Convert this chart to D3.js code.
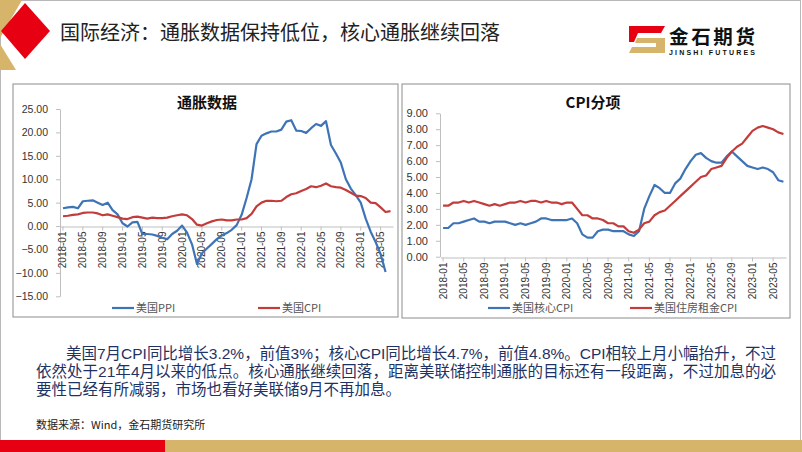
<!DOCTYPE html>
<html lang="zh-CN"><head><meta charset="utf-8">
<script src="https://cdn.jsdelivr.net/npm/d3@7"></script>
<style>body{margin:0;background:#fff}svg{display:block}</style>
</head><body><svg id="c" width="802" height="452" lang="zh-CN"></svg>
<script>
// ---------- data ----------
const months = [];
for (let yr = 2018; yr <= 2023; yr++) for (let m = 1; m <= 12; m++) {
  if (yr === 2023 && m > 7) break;
  months.push(yr + "-" + String(m).padStart(2, "0"));
}
const tickLabels = ["2018-01","2018-05","2018-09","2019-01","2019-05","2019-09","2020-01","2020-05","2020-09","2021-01","2021-05","2021-09","2022-01","2022-05","2022-09","2023-01","2023-05"];
const usPPI = [3.8,4.0,4.1,3.8,5.3,5.4,5.5,5.0,4.5,5.0,3.4,2.5,
  0.6,-0.1,0.8,0.9,-1.7,-1.7,-1.8,-2.1,-2.5,-2.8,-1.7,-1.0,
  0.1,-1.4,-3.9,-8.1,-5.8,-4.8,-3.8,-2.8,-2.0,-1.5,-0.8,0.2,
  2.4,6.0,10.0,17.5,19.3,19.8,20.2,20.2,20.6,22.3,22.6,20.4,
  20.3,19.9,20.9,21.8,21.4,22.4,17.3,15.5,13.5,10.0,8.0,6.6,
  5.0,1.6,-1.2,-3.4,-6.0,-9.8];
const usCPI = [2.1,2.2,2.4,2.5,2.8,2.9,2.9,2.7,2.3,2.5,2.2,1.9,
  1.6,1.5,1.9,2.0,1.8,1.6,1.8,1.7,1.7,1.8,2.1,2.3,
  2.5,2.3,1.5,0.3,0.1,0.6,1.0,1.3,1.4,1.2,1.2,1.4,
  1.4,1.7,2.6,4.2,5.0,5.4,5.4,5.3,5.4,6.2,6.8,7.0,
  7.5,7.9,8.5,8.3,8.6,9.1,8.5,8.3,8.2,7.7,7.1,6.5,
  6.4,6.0,5.0,4.9,4.0,3.0,3.2];
const coreCPI = [1.8,1.8,2.1,2.1,2.2,2.3,2.4,2.2,2.2,2.1,2.2,2.2,
  2.2,2.1,2.0,2.1,2.0,2.1,2.2,2.4,2.4,2.3,2.3,2.3,
  2.3,2.4,2.1,1.4,1.2,1.2,1.6,1.7,1.7,1.6,1.6,1.6,
  1.4,1.3,1.6,3.0,3.8,4.5,4.3,4.0,4.0,4.6,4.9,5.5,
  6.0,6.4,6.5,6.2,6.0,5.9,5.9,6.3,6.6,6.3,6.0,5.7,
  5.6,5.5,5.6,5.5,5.3,4.8,4.7];
const shelterCPI = [3.2,3.2,3.4,3.4,3.5,3.4,3.5,3.4,3.3,3.2,3.3,3.2,
  3.3,3.4,3.4,3.5,3.4,3.5,3.5,3.4,3.5,3.4,3.4,3.3,
  3.4,3.4,3.0,2.6,2.6,2.4,2.4,2.3,2.1,2.1,1.9,1.9,
  1.6,1.5,1.7,2.1,2.2,2.6,2.8,2.9,3.2,3.5,3.8,4.1,
  4.4,4.7,5.0,5.1,5.5,5.6,5.7,6.2,6.6,6.9,7.1,7.5,
  7.9,8.1,8.2,8.1,8.0,7.8,7.7];
const leftYTicks = [25,20,15,10,5,0,-5,-10,-15];
const rightYTicks = [9,8,7,6,5,4,3,2,1,0];
const leftTitle = "通胀数据", rightTitle = "CPI分项";
const leftNames = ["美国PPI","美国CPI"], rightNames = ["美国核心CPI","美国住房租金CPI"];
const pageTitle = "国际经济：通胀数据保持低位，核心通胀继续回落";
const bodyLines = [
  "美国7月CPI同比增长3.2%，前值3%；核心CPI同比增长4.7%，前值4.8%。CPI相较上月小幅抬升，不过",
  "依然处于21年4月以来的低点。核心通胀继续回落，距离美联储控制通胀的目标还有一段距离，不过加息的必",
  "要性已经有所减弱，市场也看好美联储9月不再加息。"
];
const sourceText = "数据来源：Wind，金石期货研究所";

// ---------- drawing ----------
const svg = d3.select("#c");
const BLUE = "#3e74b6", RED = "#c23c3b", GOLD = "#d6b46a";
const CJK = "'Noto Sans CJK SC','Noto Sans',sans-serif";
const LAT = "'Liberation Sans',Arial,sans-serif";
const MIX = "'Liberation Sans','Noto Sans CJK SC',sans-serif";

// slide frame
svg.append("rect").attr("x",0.5).attr("y",0.5).attr("width",800).attr("height",451)
  .attr("fill","none").attr("stroke","#b8b8b8");

// header decoration
svg.append("polygon").attr("points","0,0 22,0 0,38").attr("fill",GOLD);
svg.append("polygon").attr("points","0,44 0,70 16,70").attr("fill",GOLD);
svg.append("polygon").attr("points","25,3 50,31 25,59 1,31").attr("fill","#e60012");
svg.append("text").attr("x",60).attr("y",40).attr("font-family",CJK).attr("font-size",20)
  .attr("fill","#222").text(pageTitle);

// logo
svg.append("polygon").attr("points","629,26 665,26 661,33 638,33 634,42 629,42").attr("fill","#e60012");
svg.append("polygon").attr("points","637,38 665,38 665,53 629,53 632,47 656,47 656,43 635,43").attr("fill",GOLD);
svg.append("text").attr("x",669).attr("y",44).attr("font-family",MIX).attr("font-size",19.5)
  .attr("font-weight",700).attr("fill","#111").attr("textLength",86).attr("lengthAdjust","spacing").text("金石期货");
svg.append("text").attr("x",669).attr("y",54.5).attr("font-family",LAT).attr("font-size",7)
  .attr("font-weight",700).attr("fill","#111").attr("textLength",86).attr("lengthAdjust","spacing").text("JINSHI FUTURES");

function drawChart(cfg) {
  const g = svg.append("g");
  g.append("rect").attr("x",cfg.box[0]).attr("y",cfg.box[1]).attr("width",cfg.box[2]).attr("height",cfg.box[3])
    .attr("fill","#fff").attr("stroke","#8c8c8c").attr("stroke-width",1);
  g.append("text").attr("x",cfg.titleX).attr("y",108).attr("text-anchor","middle")
    .attr("font-family",CJK).attr("font-weight",700).attr("font-size",15).attr("fill","#111").text(cfg.title);

  const x = d3.scaleBand().domain(months).range([cfg.x0, cfg.x1]);
  const px = d => x(d) + x.bandwidth() / 2;
  const y = d3.scaleLinear().domain(cfg.yDomain).range([cfg.yBottom, cfg.yTop]);

  const ya = g.append("g").attr("transform",`translate(${cfg.x0 - 0.5},0)`)
    .call(d3.axisLeft(y).tickValues(cfg.yTicks).tickFormat(d3.format(".2f")).tickSize(4).tickSizeOuter(0).tickPadding(8));
  ya.select(".domain").attr("stroke","#bfbfbf");
  ya.selectAll(".tick line").attr("stroke","#bfbfbf");
  ya.selectAll("text").attr("font-family",LAT).attr("font-size",cfg.yFont).attr("fill","#333");

  const xa = g.append("g").attr("transform",`translate(0,${Math.round(y(0)) + 0.5})`)
    .call(d3.axisBottom(x).tickValues(tickLabels).tickSize(4).tickSizeOuter(0));
  xa.select(".domain").attr("stroke","#bfbfbf");
  xa.selectAll(".tick line").attr("stroke","#bfbfbf");
  xa.selectAll("text").attr("font-family",LAT).attr("font-size",10).attr("fill","#333")
    .attr("transform","rotate(-90)").attr("text-anchor","end").attr("x",-5).attr("y",0).attr("dy","0.35em");

  cfg.series.forEach(s => {
    const line = d3.line().x((v, i) => px(months[i])).y(v => y(v)).curve(d3.curveLinear);
    g.append("path").attr("d", line(s.values)).attr("fill","none").attr("stroke",s.color)
      .attr("stroke-width",2.2).attr("stroke-linejoin","round");
  });

  cfg.series.forEach(s => {
    g.append("line").attr("x1",s.lx).attr("x2",s.lx + 22).attr("y1",308).attr("y2",308)
      .attr("stroke",s.color).attr("stroke-width",2.2);
    g.append("text").attr("x",s.lx + 24).attr("y",312).attr("font-family",CJK).attr("font-size",11)
      .attr("fill","#555").text(s.name);
  });
}

drawChart({
  box:[13,84,385,233], title:leftTitle, titleX:207,
  x0:60.5, x1:393, yDomain:[-15,25], yBottom:296.3, yTop:109, yTicks:leftYTicks, yFont:10.5,
  series:[{name:leftNames[0], values:usPPI, color:BLUE, lx:112},
          {name:leftNames[1], values:usCPI, color:RED, lx:258}]
});
drawChart({
  box:[402,84,388,234], title:rightTitle, titleX:593,
  x0:440.5, x1:786, yDomain:[0,9], yBottom:256.7, yTop:113.3, yTicks:rightYTicks, yFont:11,
  series:[{name:rightNames[0], values:coreCPI, color:BLUE, lx:488},
          {name:rightNames[1], values:shelterCPI, color:RED, lx:630}]
});

// body text
const bx = [66, 36, 36], by = [359, 377, 395], bw = [710, 740, null];
bodyLines.forEach((t, i) => {
  const el = svg.append("text").attr("x",bx[i]).attr("y",by[i]).attr("font-family",MIX)
    .attr("font-size",15.5).attr("fill","#1f3264").text(t);
  if (bw[i]) el.attr("textLength",bw[i]).attr("lengthAdjust","spacing");
});
svg.append("text").attr("x",36).attr("y",429).attr("font-family",CJK).attr("font-size",11)
  .attr("fill","#222").text(sourceText);

// bottom bar
svg.append("rect").attr("x",0).attr("y",440).attr("width",165).attr("height",12).attr("fill","#e60012");
svg.append("rect").attr("x",165).attr("y",440).attr("width",637).attr("height",12).attr("fill",GOLD);
</script></body></html>
